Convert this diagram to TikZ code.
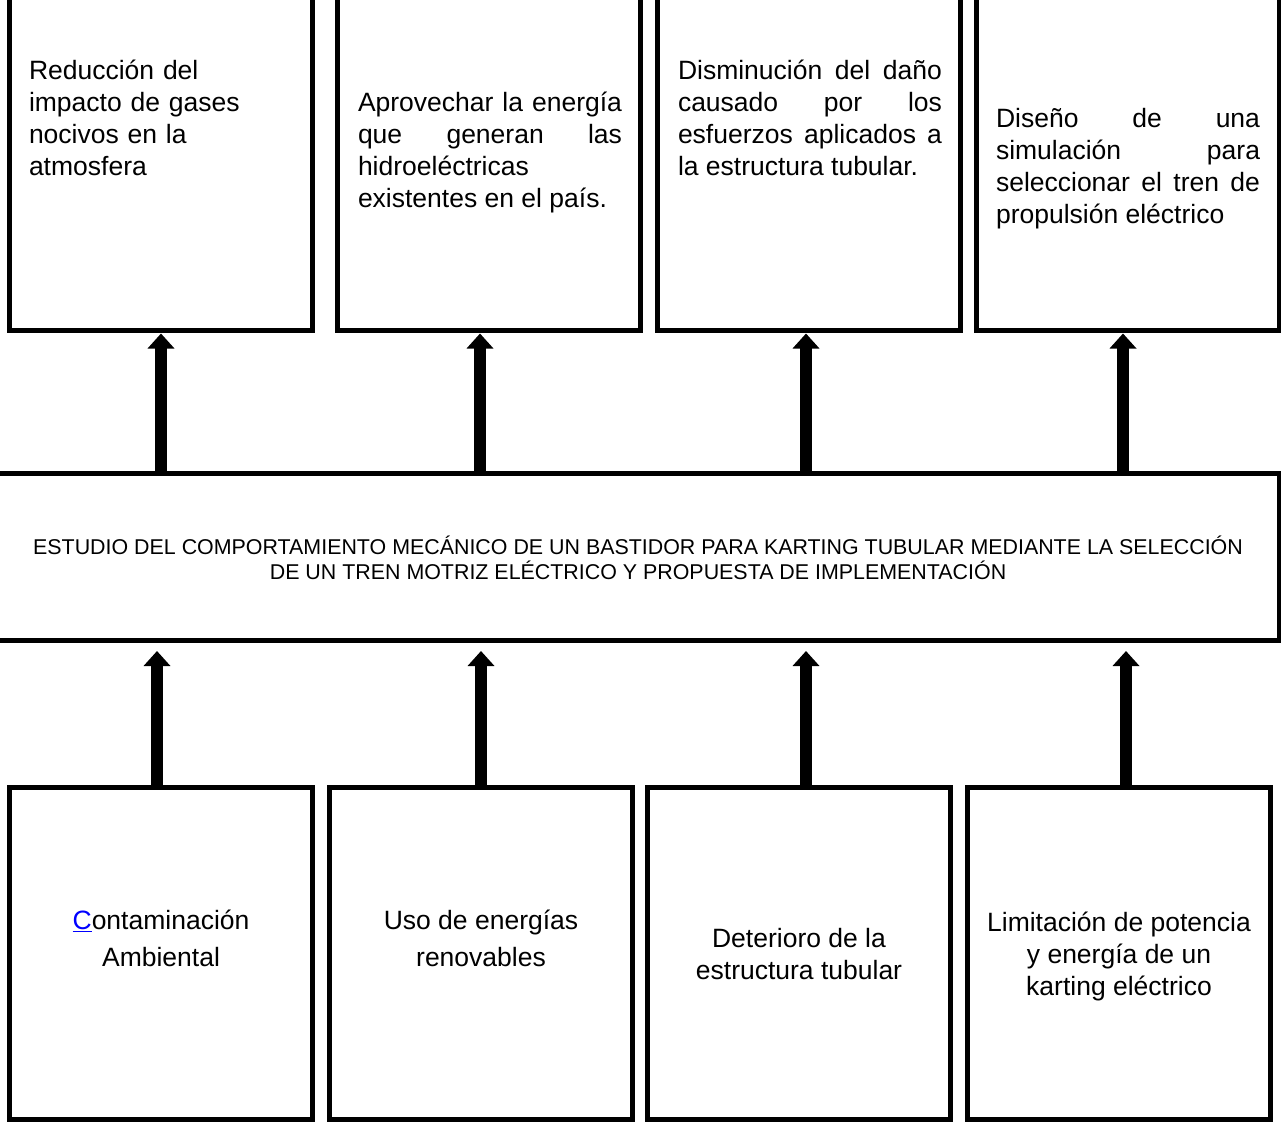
\documentclass[tikz,border=0pt]{standalone}
\usepackage{fontspec}
\setmainfont{Liberation Sans}
\usepackage{xcolor}
\usetikzlibrary{arrows.meta}
\tikzset{frame box/.style={
    draw, line width=5pt,
    outer sep=0pt, inner sep=0pt,
    minimum width=303pt,
    anchor=#1
  },
  frame box/.default=north west,
  box text/.style={
    text width=264pt, inner sep=0pt, align=justify,
    font=\fontsize{26.5pt}{32pt}\selectfont
  },
  center text/.style={
    inner sep=0pt, align=center,
    font=\fontsize{26.5pt}{32pt}\selectfont
  },
  up arrow/.style={line width=12pt, -{Triangle[width=26pt,length=15pt]}}
}

\begin{document}
\begin{tikzpicture}[x=1pt,y=-1pt]
    \useasboundingbox (0,0) rectangle (1281,1123);
    \node[frame box=south west, minimum height=350pt] (t1) at (9.5,330.5) {};
    \node[frame box=south west, minimum height=350pt] (t2) at (337.5,330.5) {};
    \node[frame box=south west, minimum height=350pt] (t3) at (657.5,330.5) {};
    \node[frame box=south west, minimum height=350pt] (t4) at (976.5,330.5) {};
    \node[frame box, minimum width=1294pt, minimum height=167pt] (mid) at (-15,473) {};
    \node[frame box, minimum height=332pt] (b1) at (9.5,787.5) {};
    \node[frame box, minimum height=332pt] (b2) at (329.5,787.5) {};
    \node[frame box, minimum height=332pt] (b3) at (647.5,787.5) {};
    \node[frame box, minimum height=332pt] (b4) at (967.5,787.5) {};

    \node[box text, align=left] (t1txt) at (161,118) {Reducción del\\ impacto de gases\\ nocivos en la\\ atmosfera};
    \node[box text] (t2txt) at (490,152) {Aprovechar la energía\linebreak que generan las\linebreak hidroeléctricas\\ existentes en el país.};
    \node[box text] (t3txt) at (810,118) {Disminución del daño\linebreak causado por los\linebreak esfuerzos aplicados a\linebreak la estructura tubular.};
    \node[box text] (t4txt) at (1128,169) {Diseño de una\linebreak simulación para\linebreak seleccionar el tren de\linebreak propulsión eléctrico};

    \node[center text, font=\fontsize{21.4pt}{25pt}\selectfont] (midtxt) at (638,558)
      {ESTUDIO DEL COMPORTAMIENTO MECÁNICO DE UN BASTIDOR PARA KARTING TUBULAR MEDIANTE LA SELECCIÓN\\ DE UN TREN MOTRIZ ELÉCTRICO Y PROPUESTA DE IMPLEMENTACIÓN};

    \node[center text] (b1txt) at (161,938) {\textcolor{blue}{\underline{C}}ontaminación\\[5pt] Ambiental};
    \node[center text] (b2txt) at (481,938) {Uso de energías\\[5pt] renovables};
    \node[center text] (b3txt) at (799,954) {Deterioro de la\\ estructura tubular};
    \node[center text] (b4txt) at (1119,956.5) {Limitación de potencia\\ y energía de un\\ karting eléctrico};

    \draw[up arrow, shorten >=3pt] (mid.north -| t1.south) -- (t1.south);
    \draw[up arrow, shorten >=3pt] ([xshift=-9pt]mid.north -| t2.south) -- ([xshift=-9pt]t2.south);
    \draw[up arrow, shorten >=3pt] ([xshift=-3pt]mid.north -| t3.south) -- ([xshift=-3pt]t3.south);
    \draw[up arrow, shorten >=3pt] ([xshift=-5pt]mid.north -| t4.south) -- ([xshift=-5pt]t4.south);

    \draw[up arrow, shorten >=11pt] ([xshift=-4pt]b1.north) -- ([xshift=-4pt]b1.north |- mid.south);
    \draw[up arrow, shorten >=11pt] (b2.north) -- (b2.north |- mid.south);
    \draw[up arrow, shorten >=11pt] ([xshift=7pt]b3.north) -- ([xshift=7pt]b3.north |- mid.south);
    \draw[up arrow, shorten >=11pt] ([xshift=7pt]b4.north) -- ([xshift=7pt]b4.north |- mid.south);
\end{tikzpicture}
\end{document}
